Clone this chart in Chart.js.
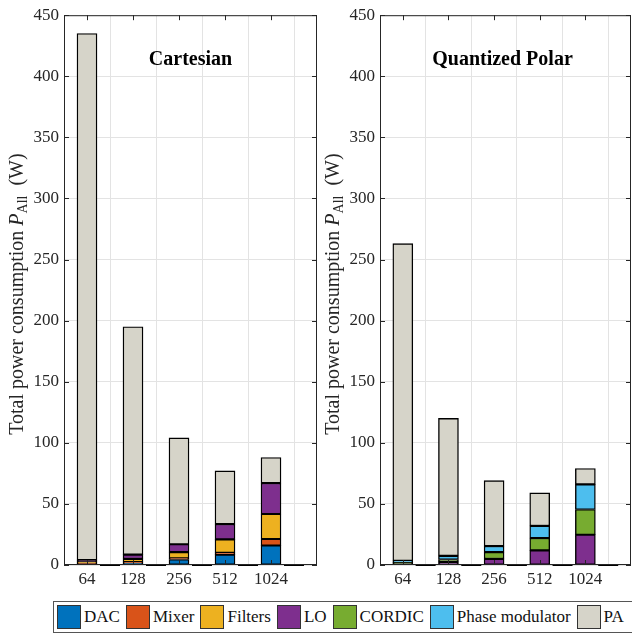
<!DOCTYPE html>
<html lang="en">
<head>
  <meta charset="UTF-8">
  <title>Total power consumption</title>
  <script src="https://cdn.jsdelivr.net/npm/chart.js"></script>
  <style>
   body { margin: 0; width: 632px; height: 641px; position: relative; overflow: hidden; background: #fff; font-family: "Liberation Serif", serif; }
   .panel { position: absolute; top: 0; height: 595px; }
   #legend { position: absolute; left: 53px; top: 601px; width: 600px; height: 32px; border: 1px solid #555; box-sizing: border-box;
             display: flex; align-items: center; font-size: 17px; color: #111; white-space: nowrap; }
   #legend .item { display: flex; align-items: center; margin-left: 3px; margin-right: 3px; }
   #legend .sw { width: 24px; height: 24px; border: 1px solid #333; box-sizing: border-box; margin-right: 3px; }
  </style>
</head>
<body>
  <div class="panel" style="left:0; width:320px;"><canvas id="cartChart" width="320" height="595"></canvas></div>
  <div class="panel" style="left:316px; width:316px;"><canvas id="polarChart" width="316" height="595"></canvas></div>
  <div id="legend"></div>

  <script>
    // x categories (number of antennas) sit at positions 1..5
    const categories = ['64', '128', '256', '512', '1024'];
    const catPos     = [1, 2, 3, 4, 5];
    const gapPos     = [1.5, 2.5, 3.5, 4.5, 5.5];   // empty (zero) bars between groups
    const yTicks     = [0, 50, 100, 150, 200, 250, 300, 350, 400, 450];

    const seriesNames  = ['DAC', 'Mixer', 'Filters', 'LO', 'CORDIC', 'Phase modulator', 'PA'];
    const seriesColors = ['#0072bd', '#d95319', '#edb120', '#7e2f8e', '#77ac30', '#4dbeee', '#d6d4c9'];

    // Cartesian architecture, W
    const cartDAC     = [0.8, 1.5, 4.5, 8.5, 16];
    const cartMixer   = [0.8, 1.0, 1.0, 1.5, 5.3];
    const cartFilters = [1.0, 2.5, 5.0, 11, 20.4];
    const cartLO      = [1.4, 3.5, 6.5, 12.5, 25.3];
    const cartCORDIC  = [0, 0, 0, 0, 0];
    const cartPhase   = [0, 0, 0, 0, 0];
    const cartPA      = [431, 186.5, 87, 43.5, 21];

    // Quantized polar architecture, W
    const polDAC     = [0, 0, 0, 0, 0];
    const polMixer   = [0, 0, 0, 0, 0];
    const polFilters = [0, 0, 0, 0, 0];
    const polLO      = [1.0, 2.5, 5.0, 12, 24.8];
    const polCORDIC  = [1.0, 2.0, 5.5, 10, 20.6];
    const polPhase   = [1.5, 3.0, 5.0, 10, 20.6];
    const polPA      = [259.5, 112.5, 53.5, 27, 13];

    const cartSeries  = [cartDAC, cartMixer, cartFilters, cartLO, cartCORDIC, cartPhase, cartPA];
    const polarSeries = [polDAC, polMixer, polFilters, polLO, polCORDIC, polPhase, polPA];

    const axisCol = '#262626';
    const FONT = '"Liberation Serif", "DejaVu Serif", serif';

    // box, inward ticks, zero bars and labels drawn around the plot area
    const framePlugin = {
      id: 'frame',
      afterDatasetsDraw(chart, args, opts) {
        const { ctx, chartArea: a, scales: { x, y } } = chart;
        ctx.save();
        // zero-height bars at the gap positions
        ctx.strokeStyle = '#000'; ctx.lineWidth = 2;
        gapPos.forEach(g => {
          const px = x.getPixelForValue(g);
          ctx.beginPath(); ctx.moveTo(px - 10, y.getPixelForValue(0)); ctx.lineTo(px + 10, y.getPixelForValue(0)); ctx.stroke();
        });
        ctx.strokeStyle = axisCol; ctx.lineWidth = 1;
        ctx.strokeRect(a.left + 0.5, a.top + 0.5, a.right - a.left - 1, a.bottom - a.top - 1);
        ctx.beginPath();
        catPos.forEach(c => {
          const px = Math.round(x.getPixelForValue(c)) + 0.5;
          ctx.moveTo(px, a.top); ctx.lineTo(px, a.top + 5);
          ctx.moveTo(px, a.bottom); ctx.lineTo(px, a.bottom - 5);
        });
        yTicks.forEach(t => {
          const py = Math.round(y.getPixelForValue(t)) + 0.5;
          ctx.moveTo(a.left, py); ctx.lineTo(a.left + 5, py);
          ctx.moveTo(a.right, py); ctx.lineTo(a.right - 5, py);
        });
        ctx.stroke();

        // panel title
        ctx.fillStyle = '#000';
        ctx.font = 'bold 20px ' + FONT;
        ctx.textAlign = 'center'; ctx.textBaseline = 'alphabetic';
        ctx.fillText(opts.title, (a.left + a.right) / 2 + opts.titleDx, a.top + 50);

        // y label: Total power consumption P_All (W)
        ctx.translate(18, (a.top + a.bottom) / 2 + 4);
        ctx.rotate(-Math.PI / 2);
        ctx.fillStyle = axisCol;
        ctx.textAlign = 'left'; ctx.textBaseline = 'middle';
        const parts = [
          { t: 'Total power consumption ', f: '20px ' + FONT, dy: 0 },
          { t: 'P', f: 'italic 20px ' + FONT, dy: 0 },
          { t: 'All', f: '14px ' + FONT, dy: 5 },
          { t: '  (W)', f: '20px ' + FONT, dy: 0 }
        ];
        let total = 0;
        parts.forEach(p => { ctx.font = p.f; p.w = ctx.measureText(p.t).width; total += p.w; });
        let cx = -total / 2;
        parts.forEach(p => { ctx.font = p.f; ctx.fillText(p.t, cx, p.dy); cx += p.w; });
        ctx.restore();
      }
    };

    function makeChart(id, series, title, titleDx, padRight) {
      const datasets = series.map((vals, i) => ({
        label: seriesNames[i],
        data: vals.map((v, k) => ({ x: catPos[k], y: v })),
        backgroundColor: seriesColors[i],
        borderColor: '#000', borderWidth: 1.4, borderSkipped: false,
        barThickness: 20
      }));
      return new Chart(document.getElementById(id), {
        type: 'bar',
        data: { datasets: datasets },
        options: {
          responsive: false, animation: false,
          layout: { padding: { top: 13, right: padRight, left: 0, bottom: 0 } },
          scales: {
            x: {
              type: 'linear', stacked: true, min: 0.5, max: 6, offset: false,
              afterBuildTicks: s => { s.ticks = catPos.map(v => ({ value: v })); },
              afterFit: s => { s.height = 30; },
              ticks: { callback: v => categories[catPos.indexOf(v)] || '', color: axisCol, padding: 4,
                       font: { family: FONT, size: 17 }, maxRotation: 0, autoSkip: false },
              grid: { color: '#e3e3e3', drawTicks: false },
              border: { display: false }
            },
            y: {
              stacked: true, min: 0, max: 450,
              afterBuildTicks: s => { s.ticks = yTicks.map(v => ({ value: v })); },
              afterFit: s => { s.width = 64; },
              ticks: { color: axisCol, padding: 5, font: { family: FONT, size: 17 } },
              grid: { color: '#e3e3e3', drawTicks: false },
              border: { display: false }
            }
          },
          plugins: {
            legend: { display: false }, tooltip: { enabled: false },
            frame: { title: title, titleDx: titleDx }
          }
        },
        plugins: [framePlugin]
      });
    }

    makeChart('cartChart', cartSeries, 'Cartesian', 0, 3);
    makeChart('polarChart', polarSeries, 'Quantized Polar', -3, 1);

    // shared legend under both panels
    const legend = document.getElementById('legend');
    seriesNames.forEach((n, i) => {
      const it = document.createElement('div'); it.className = 'item';
      const sw = document.createElement('div'); sw.className = 'sw'; sw.style.background = seriesColors[i];
      const tx = document.createElement('span'); tx.textContent = n;
      it.appendChild(sw); it.appendChild(tx); legend.appendChild(it);
    });
  </script>
</body>
</html>
